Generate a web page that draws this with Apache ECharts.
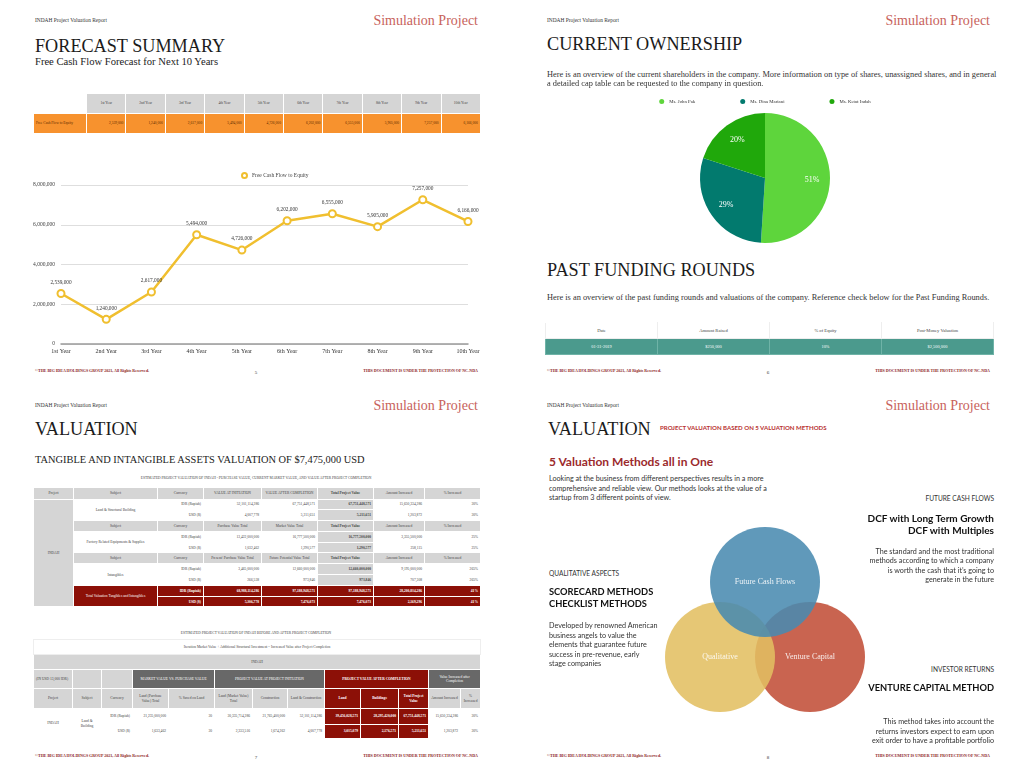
<!DOCTYPE html>
<html lang="en">
<head>
<meta charset="utf-8">
<title>INDAH Project Valuation Report</title>
<script src="https://cdn.jsdelivr.net/npm/echarts@6.0.0/dist/echarts.min.js"></script>
<style>
html, body { margin: 0; padding: 0; background: #fff; }
body { position: relative; width: 1024px; height: 769px; overflow: hidden; font-family: "Liberation Serif", serif; color: #222; }
.t { position: absolute; white-space: nowrap; line-height: 1; }
.hdr { font-size: 5.4px; color: #333; }
.brand { font-size: 14px; color: #c8625c; }
.h1 { font-size: 18.2px; color: #1b1b1b; }
.sub { font-size: 10.6px; color: #222; }
.sub2 { font-size: 10.4px; color: #222; }
.para { font-size: 8.35px; color: #333; }
.foot { font-size: 4px; color: #8b1c1c; font-weight: bold; }
.pg { font-size: 5px; color: #333; }
.cap { font-size: 3.6px; color: #444; }
.sans { font-family: Lato, "Open Sans", sans-serif; }
.redcap { font-size: 6.1px; color: #b8312f; font-weight: bold; }
.big { font-size: 12px; color: #9b2a2c; font-weight: bold; }
.body { font-size: 7.2px; color: #333; }
.kick { font-size: 6.6px; color: #333; }
.bold { font-size: 9.3px; color: #111; font-weight: bold; }
.bold2 { font-size: 10px; color: #111; font-weight: bold; }
.chart { position: absolute; }
table { position: absolute; border-collapse: collapse; table-layout: fixed; font-size: 3.6px; color: #444; }
td { padding: 0 2px; border: 0.5px solid #fff; white-space: nowrap; overflow: hidden; line-height: 1.15; }
td.wr { white-space: normal; }
.g { background: #d5d5d5; }
.o { background: #f7922e; color: #5b2a00; }
.R { background: #8c1007; color: #fff; font-weight: bold; }
.D { background: #686868; color: #fff; }
.tl { background: #4b9a8d; color: #fff; }
.c { text-align: center; }
.r { text-align: right; }
.b { font-weight: bold; }
.wl { border-color: #eee; }
</style>
</head>
<body>
<div id="line" class="chart" style="left:0;top:160px;width:512px;height:205px"></div>
<div id="pie" class="chart" style="left:512px;top:85px;width:506px;height:170px"></div>
<div id="venn" class="chart" style="left:640px;top:510px;width:250px;height:220px"></div>
<script>
// forecast
const years = ['1st Year', '2nd Year', '3rd Year', '4th Year', '5th Year', '6th Year', '7th Year', '8th Year', '9th Year', '10th Year'];
const fcfe = [2539000, 1240000, 2617000, 5494000, 4726000, 6202000, 6555000, 5905000, 7257000, 6166000];
const yTicks = [0, 2000000, 4000000, 6000000, 8000000];

// ownership
const owners = ['Ms. John Pak', 'Ms. Dina Mariani', 'Ms. Ketut Indah'];
const ownerShares = [51, 29, 20];
const ownerColors = ['#5ed53c', '#027a6e', '#20a80b'];

// past funding
const fundHeads = ['Date', 'Amount Raised', '% of Equity', 'Post-Money Valuation'];
const fundRow = ['01-31-2019', '$250,000', '10%', '$2,500,000'];

// valuation table 1
const valSubjects = ['Land & Structural Building', 'Factory Related Equipments & Supplies', 'Intangibles'];
const valHeads = [
  ['VALUE AT INITIATION', 'VALUE AFTER COMPLETION'],
  ['Purchase Value Total', 'Market Value Total'],
  ['Present/ Purchase Value Total', 'Future Potential Value Total']
];
const valIdr = [
  ['52,101,114,286', '67,751,448,571', '67,751,448,571', '15,650,334,286', '30%'],
  ['13,422,000,000', '16,777,500,000', '16,777,500,000', '3,355,500,000', '25%'],
  ['3,465,000,000', '12,660,000,000', '12,660,000,000', '9,195,000,000', '265%']
];
const valUsd = [
  ['4,007,778', '5,211,651', '5,211,651', '1,203,872', '30%'],
  ['1,032,462', '1,290,577', '1,290,577', '258,115', '25%'],
  ['266,538', '973,846', '973,846', '707,308', '265%']
];
const valTotalIdr = ['68,988,114,286', '97,188,948,571', '97,188,948,571', '28,200,834,286', '41%'];
const valTotalUsd = ['5,306,778', '7,476,073', '7,476,073', '2,169,296', '41%'];

// valuation table 2
const compHeads = ['Project', 'Subject', 'Currency', 'Land (Purchase Value) Total', '% Saved on Land', 'Land (Market Value) Total', 'Construction', 'Land & Construction', 'Land', 'Buildings', 'Total Project Value', 'Amount Increased', '% Increased'];
const compIdr = ['IDR (Rupiah)', '21,235,000,000', '30', '30,335,714,286', '21,765,400,000', '52,101,114,286', '39,456,028,571', '28,295,420,000', '67,751,448,571', '15,650,334,286', '30%'];
const compUsd = ['USD ($)', '1,633,462', '30', '2,333,516', '1,674,262', '4,007,778', '3,035,079', '2,176,571', '5,211,651', '1,203,872', '30%'];

// venn
const vennSets = ['Venture Capital', 'Qualitative', 'Future Cash Flows'];
const vennX = [45, -45, 0];
const vennY = [-37, -37, 38];
const vennColors = ['#c24f38', '#e2bf62', '#4a8bb0'];

const fmt = v => v.toLocaleString('en-US');

function put(text, x, y, cls, align) {
  const d = document.createElement('div');
  d.className = 't ' + cls;
  d.textContent = text;
  d.style.left = x + 'px';
  d.style.top = y + 'px';
  const tx = align === 'right' ? '-100%' : align === 'center' ? '-50%' : '0';
  d.style.transform = `translate(${tx},-50%)`;
  document.body.appendChild(d);
}

function table(html, x, y, w) {
  const t = document.createElement('table');
  t.innerHTML = html;
  t.style.left = x + 'px';
  t.style.top = y + 'px';
  t.style.width = w + 'px';
  document.body.appendChild(t);
}

const cols = ws => '<colgroup>' + ws.map(w => `<col style="width:${w}px">`).join('') + '</colgroup>';

// page frames
[[0, 0, '5'], [512, 0, '6'], [0, 385, '7'], [512, 385, '8']].forEach(([ox, oy, n]) => {
  put('INDAH Project Valuation Report', ox + 35, oy + 21, 'hdr');
  put('Simulation Project', ox + 478, oy + 21, 'brand', 'right');
  put('©THE BIG IDEA HOLDINGS GROUP 2021, All Rights Reserved.', ox + 35, oy + 371, 'foot');
  put(n, ox + 256, oy + 372, 'pg', 'center');
  put('THIS DOCUMENT IS UNDER THE PROTECTION OF NC-NDA', ox + 478, oy + 371, 'foot', 'right');
});

// page 5
put('FORECAST SUMMARY', 35, 46, 'h1');
put('Free Cash Flow Forecast for Next 10 Years', 35, 62, 'sub');
table(cols([53].concat(years.map(() => 39.4))) +
  '<tr style="height:20px"><td></td>' + years.map(y => `<td class="g c">${y}</td>`).join('') + '</tr>' +
  '<tr style="height:20px"><td class="o">Free Cash Flow to Equity</td>' + fcfe.map(v => `<td class="o r">${fmt(v)}</td>`).join('') + '</tr>',
  33, 93, 447);

// page 6
put('CURRENT OWNERSHIP', 547, 44, 'h1');
put('Here is an overview of the current shareholders in the company. More information on type of shares, unassigned shares, and in general', 547, 75, 'para');
put('a detailed cap table can be requested to the company in question.', 547, 83.5, 'para');
put('PAST FUNDING ROUNDS', 547, 270, 'h1');
put('Here is an overview of the past funding rounds and valuations of the company. Reference check below for the Past Funding Rounds.', 547, 298, 'para');
table(cols([112, 112, 112, 112]) +
  '<tr style="height:16px">' + fundHeads.map(h => `<td class="c wl" style="font-size:4.6px;border-top-color:#fff">${h}</td>`).join('') + '</tr>' +
  '<tr style="height:16px">' + fundRow.map(v => `<td class="c tl" style="font-size:4.4px;border-color:#6fb3a7">${v}</td>`).join('') + '</tr>',
  545, 322, 448);

// page 7 - table 1
put('VALUATION', 35, 429, 'h1');
put('TANGIBLE AND INTANGIBLE ASSETS VALUATION OF $7,475,000 USD', 35, 460, 'sub2');
put('ESTIMATED PROJECT VALUATION OF INDAH - PURCHASE VALUE, CURRENT MARKET VALUE, AND VALUE AFTER PROJECT COMPLETION', 256, 479, 'cap', 'center');
let t1 = cols([40, 84, 46, 58, 56, 56, 51, 56]);
const headCells = h => `<td class="g c">Currency</td><td class="g c">${h[0]}</td><td class="g c">${h[1]}</td><td class="g c b">Total Project Value</td><td class="g c">Amount Increased</td><td class="g c">% Increased</td>`;
t1 += `<tr style="height:11.5px"><td class="g c">Project</td><td class="g c">Subject</td>${headCells(valHeads[0])}</tr>`;
valSubjects.forEach((s, i) => {
  if (i > 0) t1 += `<tr style="height:10.8px"><td class="g c">Subject</td>${headCells(valHeads[i])}</tr>`;
  const row = (cur, vals) => `<td class="r">${cur}</td>` + vals.map((v, j) => `<td class="r${j === 2 ? ' g b' : ''}">${v}</td>`).join('');
  t1 += '<tr style="height:10.8px">' + (i === 0 ? '<td class="g c" rowspan="10">INDAH</td>' : '') +
    `<td class="c" rowspan="2">${s}</td>` + row('IDR (Rupiah)', valIdr[i]) + '</tr>';
  t1 += '<tr style="height:10.8px">' + row('USD ($)', valUsd[i]) + '</tr>';
});
t1 += '<tr style="height:10.8px"><td class="R c" rowspan="2" style="font-weight:normal">Total Valuation Tangibles and Intangibles</td><td class="R r">IDR (Rupiah)</td>' +
  valTotalIdr.map(v => `<td class="R r">${v}</td>`).join('') + '</tr>';
t1 += '<tr style="height:10.8px"><td class="R r">USD ($)</td>' + valTotalUsd.map(v => `<td class="R r">${v}</td>`).join('') + '</tr>';
table(t1, 33, 487, 447);

// page 7 - table 2
put('ESTIMATED PROJECT VALUATION OF INDAH BEFORE AND AFTER PROJECT COMPLETION', 256, 634, 'cap', 'center');
let t2 = cols([39, 29, 31, 36, 46, 38, 35, 37, 36, 38, 30, 32, 20]);
t2 += '<tr style="height:15px"><td colspan="13" class="c wl">Iteration Market Value + Additional Structural Investment = Increased Value after Project Completion</td></tr>';
t2 += '<tr style="height:15px"><td colspan="13" class="g c">INDAH</td></tr>';
t2 += '<tr style="height:19px"><td class="g" style="overflow:visible">(IN USD 13,000 IDR)</td><td class="g"></td><td class="g"></td>' +
  '<td colspan="2" class="D c">MARKET VALUE VS. PURCHASE VALUE</td><td colspan="3" class="D c">PROJECT VALUE AT PROJECT INITIATION</td>' +
  '<td colspan="3" class="R c">PROJECT VALUE AFTER COMPLETION</td><td colspan="2" class="D c wr">Value Increased after Completion</td></tr>';
t2 += '<tr style="height:20px">' + compHeads.map((h, j) => `<td class="${j >= 8 && j <= 10 ? 'R' : 'g'} c wr">${h}</td>`).join('') + '</tr>';
const compRow = vals => vals.map((v, j) => `<td class="r${j >= 6 && j <= 8 ? ' R' : ''}${j === 2 || j === 10 ? ' c' : ''}">${v}</td>`).join('');
t2 += '<tr style="height:16px"><td class="c" rowspan="2">INDAH</td><td class="c wr" rowspan="2">Land &amp; Building</td>' + compRow(compIdr) + '</tr>';
t2 += '<tr style="height:14px">' + compRow(compUsd) + '</tr>';
table(t2, 33, 639, 447);

// page 8
put('VALUATION', 548, 429, 'h1');
put('PROJECT VALUATION BASED ON 5 VALUATION METHODS', 660, 428, 'sans redcap');
put('5 Valuation Methods all in One', 549, 462, 'sans big');
['Looking at the business from different perspectives results in a more',
 'comprehensive and reliable view. Our methods looks at the value of a',
 'startup from 3 different points of view.'].forEach((s, i) => put(s, 549, 479 + i * 9.7, 'sans body'));
put('FUTURE CASH FLOWS', 994, 498, 'sans kick', 'right');
put('DCF with Long Term Growth', 994, 518, 'sans bold2', 'right');
put('DCF with Multiples', 994, 530, 'sans bold2', 'right');
['The standard and the most traditional', 'methods according to which a company',
 'is worth the cash that it\u2019s going to', 'generate in the future'].forEach((s, i) => put(s, 994, 552 + i * 9.4, 'sans body', 'right'));
put('QUALITATIVE ASPECTS', 549, 573, 'sans kick');
put('SCORECARD METHODS', 549, 592, 'sans bold');
put('CHECKLIST METHODS', 549, 604, 'sans bold');
['Developed by renowned American', 'business angels to value the', 'elements that guarantee future',
 'success in pre-revenue, early', 'stage companies'].forEach((s, i) => put(s, 549, 626 + i * 9.6, 'sans body'));
put('INVESTOR RETURNS', 994, 669, 'sans kick', 'right');
put('VENTURE CAPITAL METHOD', 994, 688, 'sans bold', 'right');
['This method takes into account the', 'returns investors expect to earn upon',
 'exit order to have a profitable portfolio'].forEach((s, i) => put(s, 994, 722 + i * 9.6, 'sans body', 'right'));

// line chart
const lineChart = echarts.init(document.getElementById('line'));
lineChart.setOption({
  animation: false,
  textStyle: { fontFamily: 'Liberation Serif' },
  legend: {
    top: 7, left: 236, icon: 'emptyCircle', itemWidth: 5, itemHeight: 5,
    textStyle: { fontSize: 5.5, color: '#444' }
  },
  grid: { left: 61, right: 44, top: 25, bottom: 21 },
  xAxis: {
    type: 'category', data: years, boundaryGap: false,
    axisTick: { show: false },
    axisLine: { lineStyle: { color: '#9a9a9a', width: 1.5 } },
    axisLabel: { fontSize: 6, color: '#333', margin: 4 }
  },
  yAxis: {
    type: 'value', min: yTicks[0], max: yTicks[yTicks.length - 1], interval: 2000000,
    axisLabel: { fontSize: 5.5, color: '#444', margin: 6, formatter: v => fmt(v) },
    splitLine: { lineStyle: { color: '#dedede' } }
  },
  series: [{
    name: 'Free Cash Flow to Equity', type: 'line', data: fcfe,
    symbol: 'emptyCircle', symbolSize: 7,
    lineStyle: { color: '#f0bf2f', width: 2.5 },
    itemStyle: { color: '#f0bf2f', borderWidth: 2 },
    label: { show: true, position: 'top', distance: 4, fontSize: 5.3, color: '#333', formatter: p => fmt(p.value) }
  }]
});

// pie chart
const pieData = owners.map((n, i) => ({ name: n, value: ownerShares[i], itemStyle: { color: ownerColors[i] } }));
const pieChart = echarts.init(document.getElementById('pie'));
pieChart.setOption({
  animation: false,
  textStyle: { fontFamily: 'Liberation Serif' },
  legend: {
    top: 9, left: 'center', icon: 'circle', itemWidth: 5, itemHeight: 5, itemGap: 45,
    textStyle: { fontSize: 4.8, color: '#333' }
  },
  series: [{
    type: 'pie', center: [253, 93], radius: 65, startAngle: 90,
    data: pieData, label: { show: false }, labelLine: { show: false }
  }, {
    type: 'pie', center: [253, 93], radius: [22, 66], startAngle: 90, silent: true,
    data: owners.map((n, i) => ({ name: n, value: ownerShares[i], itemStyle: { color: 'rgba(0,0,0,0)' } })),
    label: { show: true, position: 'inside', color: '#fff', fontSize: 8, formatter: '{c}%' },
    labelLine: { show: false }
  }]
});

// venn diagram
const vennChart = echarts.init(document.getElementById('venn'));
vennChart.setOption({
  animation: false,
  grid: { left: 0, right: 0, top: 0, bottom: 0 },
  xAxis: { type: 'value', min: -125, max: 125, show: false },
  yAxis: { type: 'value', min: -110, max: 110, show: false },
  series: [{
    type: 'scatter', symbolSize: 110,
    data: vennSets.map((n, i) => ({ name: n, value: [vennX[i], vennY[i]], itemStyle: { color: vennColors[i], opacity: 0.88 } })),
    label: { show: true, position: 'inside', formatter: '{b}', color: '#fff', fontSize: 8, fontFamily: 'Liberation Serif' }
  }]
});
</script>
</body>
</html>
